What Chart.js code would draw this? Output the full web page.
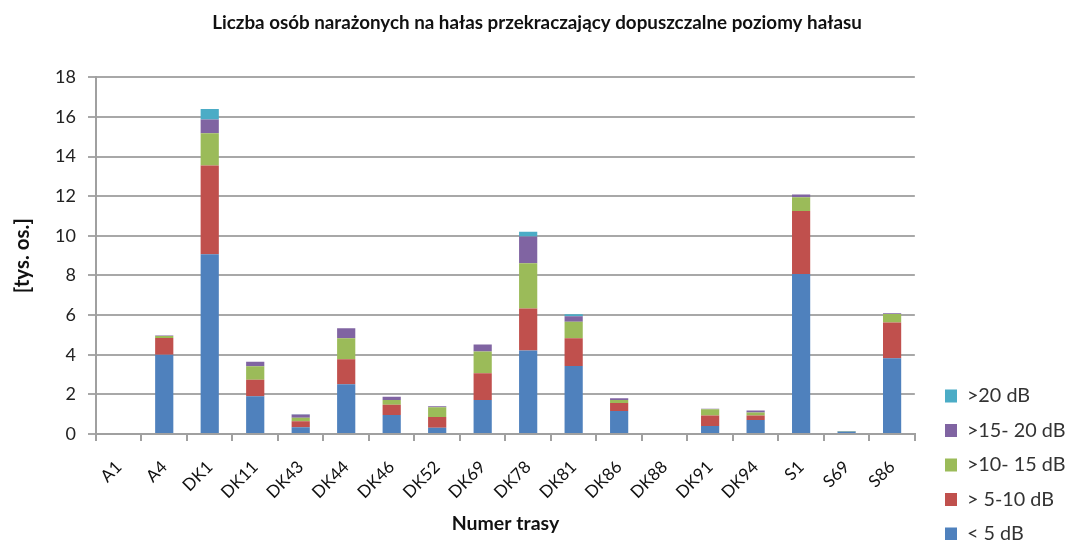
<!DOCTYPE html>
<html>
<head>
<meta charset="utf-8">
<script src="https://cdn.jsdelivr.net/npm/chart.js@4"></script>
<style>
  html, body { margin: 0; padding: 0; background: #ffffff; }
  #wrap { width: 1066px; height: 540px; }
</style>
</head>
<body>
<div id="wrap"><canvas id="c" width="1066" height="540"></canvas></div>
<script>
const categories = ['A1','A4','DK1','DK11','DK43','DK44','DK46','DK52','DK69','DK78','DK81','DK86','DK88','DK91','DK94','S1','S69','S86'];
const seriesNames = ['< 5 dB', '> 5-10 dB', '>10- 15 dB', '>15- 20 dB', '>20 dB'];
const below5   = [0, 4.0, 9.07, 1.9, 0.34, 2.51, 0.96, 0.32, 1.72, 4.21, 3.43, 1.16, 0, 0.4, 0.71, 8.07, 0.13, 3.82];
const from5to10  = [0, 0.85, 4.48, 0.84, 0.3, 1.26, 0.52, 0.54, 1.34, 2.12, 1.4, 0.41, 0, 0.53, 0.22, 3.18, 0, 1.8];
const from10to15 = [0, 0.1, 1.62, 0.68, 0.18, 1.06, 0.24, 0.49, 1.1, 2.29, 0.84, 0.15, 0, 0.32, 0.15, 0.69, 0.02, 0.44];
const from15to20 = [0, 0.02, 0.7, 0.23, 0.16, 0.51, 0.16, 0.05, 0.35, 1.35, 0.27, 0.08, 0, 0.02, 0.1, 0.15, 0, 0.03];
const above20    = [0, 0, 0.53, 0, 0.02, 0, 0, 0, 0, 0.23, 0.1, 0, 0, 0, 0, 0, 0, 0];
const yTicks = [0, 2, 4, 6, 8, 10, 12, 14, 16, 18];

const colors = ['#4F81BD', '#C0504D', '#9BBB59', '#8064A2', '#4BACC6'];
const values = [below5, from5to10, from10to15, from15to20, above20];

const datasets = seriesNames.map((name, i) => ({
  label: name,
  data: values[i],
  backgroundColor: colors[i],
  borderWidth: 0,
  barPercentage: 0.4,
  categoryPercentage: 1.0
}));

const FONT = "Lato, 'Open Sans', sans-serif";

// presentation-only nudges of the legend and title blocks (placement as in reference)
const blockNudge = {
  id: 'blockNudge',
  afterLayout(chart) {
    const lg = chart.legend;
    const dx = 945 - 14.7 - lg.left;
    lg.left += dx; lg.right += dx;
    lg.top += 18.5; lg.bottom += 18.5;
    const tb = chart.titleBlock;
    if (tb) { tb.left += 7; tb.right += 7; }
  }
};

new Chart(document.getElementById('c'), {
  type: 'bar',
  data: { labels: categories, datasets },
  plugins: [blockNudge],
  options: {
    responsive: false,
    animation: false,
    devicePixelRatio: 1,
    layout: { padding: { left: 0, right: 6, top: 0, bottom: 0 } },
    plugins: {
      title: {
        display: true,
        text: 'Liczba osób narażonych na hałas przekraczający dopuszczalne poziomy hałasu',
        color: '#111',
        font: { family: FONT, size: 18.8, weight: 'bold' },
        padding: { top: 12, bottom: 42.7 }
      },
      legend: {
        position: 'right',
        align: 'end',
        reverse: true,
        labels: {
          color: '#333',
          font: { family: FONT, size: 19.8 },
          boxWidth: 12,
          boxHeight: 13,
          padding: 14.7
        }
      },
      tooltip: { enabled: false }
    },
    scales: {
      x: {
        stacked: true,
        afterFit: (scale) => { scale.height = 106; },
        grid: { display: true, drawOnChartArea: false, drawTicks: true, tickLength: 7, color: '#a0a0a0', lineWidth: 2, offset: true },
        border: { display: true, color: '#a0a0a0', width: 2 },
        ticks: { color: '#111', font: { family: FONT, size: 17 }, minRotation: 45, maxRotation: 45, autoSkip: false, padding: 16 },
        title: { display: true, text: 'Numer trasy', color: '#111', font: { family: FONT, size: 19.5, weight: 'bold' }, padding: { top: 0, bottom: 5 } }
      },
      y: {
        stacked: true,
        min: 0,
        max: 18,
        afterBuildTicks: (scale) => { scale.ticks = yTicks.map(v => ({ value: v })); },
        afterFit: (scale) => { scale.width = 96; },
        grid: { color: '#a8a8a8', lineWidth: 2, tickLength: 8, drawTicks: true },
        border: { display: true, color: '#a0a0a0', width: 2 },
        ticks: { color: '#222', font: { family: FONT, size: 18 }, padding: 12 },
        title: { display: true, text: '[tys. os.]', color: '#111', font: { family: FONT, size: 20.5, weight: 'bold' }, padding: { top: 9.7, bottom: 0 } }
      }
    }
  }
});
</script>
</body>
</html>
